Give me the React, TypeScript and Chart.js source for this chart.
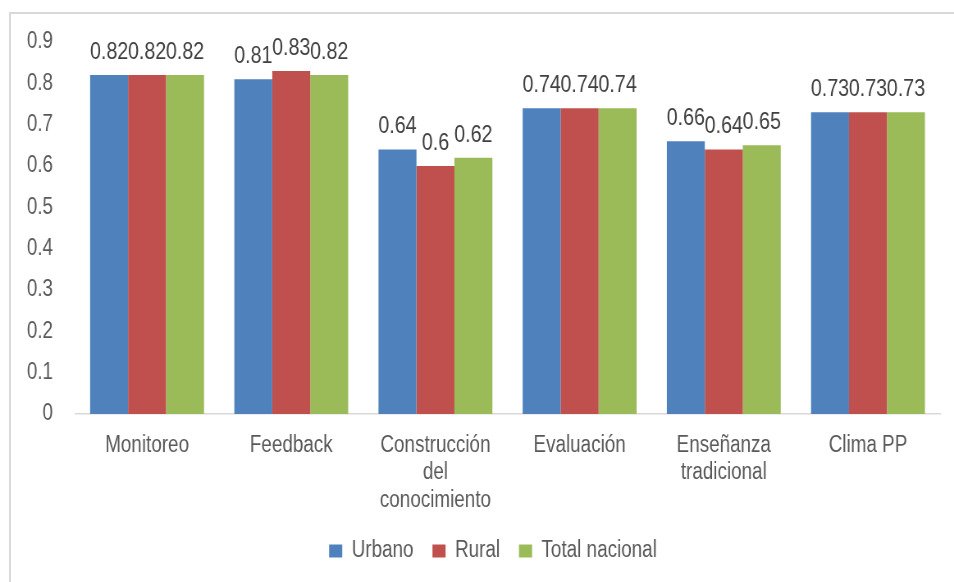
import React, { useEffect, useRef } from "react";
import { Chart, registerables } from "chart.js";

Chart.register(...registerables);

const categories: (string | string[])[] = [
  "Monitoreo",
  "Feedback",
  ["Construcción", "del", "conocimiento"],
  "Evaluación",
  ["Enseñanza", "tradicional"],
  "Clima PP",
];
const urbano = [0.82, 0.81, 0.64, 0.74, 0.66, 0.73];
const rural = [0.82, 0.83, 0.6, 0.74, 0.64, 0.73];
const totalNacional = [0.82, 0.82, 0.62, 0.74, 0.65, 0.73];
const seriesNames = ["Urbano", "Rural", "Total nacional"];
const seriesColors = ["#4F81BD", "#C0504D", "#9BBB59"];

const FONT = "'Liberation Sans', Arial, sans-serif";
// the reference text is slightly condensed: draw on a wider canvas, squeeze horizontally
const SQ = 0.8203;
const CW = 1163;
const CH = 582;

const dataLabels = {
  id: "dataLabels",
  afterDatasetsDraw(chart: any) {
    const ctx = chart.ctx;
    ctx.save();
    ctx.font = `24px ${FONT}`;
    ctx.fillStyle = "#404040";
    ctx.textAlign = "center";
    ctx.textBaseline = "alphabetic";
    chart.data.datasets.forEach((ds: any, di: number) => {
      const meta = chart.getDatasetMeta(di);
      meta.data.forEach((bar: any, i: number) => {
        ctx.fillText(String(ds.data[i]), bar.x, bar.y - 16);
      });
    });
    ctx.restore();
  },
};

const legendShift = {
  id: "legendShift",
  afterLayout(chart: any) {
    const lg = chart.legend;
    if (lg) {
      lg.left += 28;
      lg.right += 28;
    }
  },
};

export default function App() {
  const ref = useRef<HTMLCanvasElement | null>(null);
  useEffect(() => {
    if (!ref.current) return;
    const chart = new Chart(ref.current, {
      type: "bar",
      data: {
        labels: categories,
        datasets: [urbano, rural, totalNacional].map((d, i) => ({
          label: seriesNames[i],
          data: d,
          backgroundColor: seriesColors[i],
          borderWidth: 0,
          categoryPercentage: 0.79,
          barPercentage: 1,
        })),
      },
      options: {
        responsive: false,
        animation: false,
        devicePixelRatio: 1,
        layout: { padding: { left: 0, right: 17, top: 42, bottom: 9.5 } },
        plugins: {
          tooltip: { enabled: false },
          legend: {
            position: "bottom",
            labels: {
              boxWidth: 16,
              boxHeight: 13,
              padding: 23,
              color: "#595959",
              font: { size: 23, family: FONT },
            },
          },
        },
        scales: {
          x: {
            grid: { display: false, drawTicks: false },
            border: { display: true, color: "#d9d9d9", width: 1.5 },
            ticks: {
              color: "#595959",
              padding: 17.5,
              maxRotation: 0,
              autoSkip: false,
              font: { size: 23, family: FONT, lineHeight: 1.2 },
            },
            afterFit: (s: any) => {
              s.height = 102.5;
            },
          },
          y: {
            min: 0,
            max: 0.9,
            grid: { display: false, drawTicks: false },
            border: { display: false },
            ticks: {
              stepSize: 0.1,
              color: "#595959",
              padding: 26.8,
              font: { size: 23, family: FONT },
              callback: (v: any) => (Number(v) === 0 ? "0" : Number(v).toFixed(1)),
            },
            afterFit: (s: any) => {
              s.width = 91.4;
            },
          },
        },
      },
      plugins: [dataLabels, legendShift],
    });
    return () => chart.destroy();
  }, []);

  return (
    <div
      style={{
        position: "fixed",
        left: 0,
        top: 0,
        width: 954,
        height: 582,
        background: "#fff",
        overflow: "hidden",
      }}
    >
      <div
        style={{
          position: "absolute",
          left: 9,
          top: 12,
          width: 980,
          height: 620,
          border: "2px solid #d9d9d9",
          boxSizing: "border-box",
        }}
      />
      <canvas
        ref={ref}
        width={CW}
        height={CH}
        style={{
          position: "absolute",
          left: 0,
          top: 0,
          width: CW,
          height: CH,
          transform: `scaleX(${SQ})`,
          transformOrigin: "0 0",
        }}
      />
    </div>
  );
}
